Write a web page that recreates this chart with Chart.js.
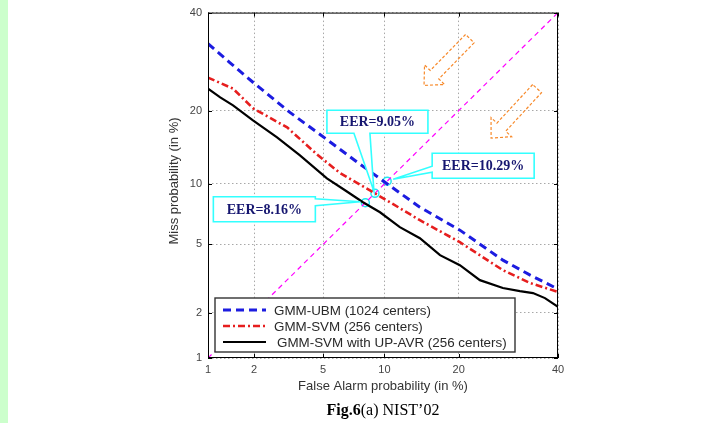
<!DOCTYPE html>
<html>
<head>
<meta charset="utf-8">
<script src="https://cdn.jsdelivr.net/npm/chart.js@4.4.0/dist/chart.umd.min.js"></script>
<style>
  html, body { margin: 0; padding: 0; background: #fff; }
  #wrap { position: relative; width: 715px; height: 423px; }
</style>
</head>
<body>
<div id="wrap"><canvas id="det" width="715" height="423"></canvas></div>
<script>
// ticks (in %)
const tickPct = [1, 2, 5, 10, 20, 40];
const tickLabels = ['1', '2', '5', '10', '20', '40'];

// GMM-UBM (1024 centers)
const ubmFA   = [1.0, 1.4, 1.97, 3.28, 5.12, 7.27, 10.06, 14.2, 20.2, 28.1, 33.8, 40];
const ubmMiss = [33.0, 29.0, 25.1, 19.7, 15.7, 12.7, 10.17, 7.76, 5.95, 4.10, 3.37, 2.79];

// GMM-SVM (256 centers)
const svmFA   = [1.0, 1.47, 1.97, 3.16, 4.7, 6.12, 8.87, 11.7, 14.2, 20.2, 28.1, 33.8, 40];
const svmMiss = [26.0, 23.9, 20.4, 17.3, 13.35, 11.2, 9.15, 7.68, 6.69, 5.14, 3.6, 3.03, 2.68];

// GMM-SVM with UP-AVR (256 centers)
const upFA   = [1.0, 1.21, 1.47, 1.97, 2.76, 3.74, 5.24, 6.49, 7.95, 9.55, 11.7, 14.2, 17.05, 20.2, 23.7, 28.1, 31.6, 34.4, 37.05, 40];
const upMiss = [23.9, 22.3, 20.9, 18.4, 15.8, 13.35, 10.6, 9.35, 8.2, 7.33, 6.17, 5.4, 4.37, 3.84, 3.15, 2.83, 2.71, 2.64, 2.46, 2.17];

// equal error rate points
const eerVals   = [10.29, 9.05, 8.16];
const eerLabels = ['EER=10.29%', 'EER=9.05%', 'EER=8.16%'];

// orange arrows (tail -> tip, in %)
const arrowTail = [[21.9, 34.1], [35.3, 23.9]];
const arrowTip  = [[14.76, 24.5], [25.8, 15.7]];

const legendLabels = ['GMM-UBM (1024 centers)', 'GMM-SVM (256 centers)', 'GMM-SVM with UP-AVR (256 centers)'];

// inverse normal cdf (DET axis)
function probit(p) {
    const a = [-3.969683028665376e+01, 2.209460984245205e+02, -2.759285104469687e+02, 1.383577518672690e+02, -3.066479806614716e+01, 2.506628277459239e+00];
    const b = [-5.447609879822406e+01, 1.615858368580409e+02, -1.556989798598866e+02, 6.680131188771972e+01, -1.328068155288572e+01];
    const c = [-7.784894002430293e-03, -3.223964580411365e-01, -2.400758277161838e+00, -2.549671010243128e+00, 4.374664141464968e+00, 2.938163982698783e+00];
    const d = [7.784695709041462e-03, 3.224671290700398e-01, 2.445134137142996e+00, 3.754408661907416e+00];
    let q, r;
    if (p < 0.02425) {
        q = Math.sqrt(-2 * Math.log(p));
        return (((((c[0]*q+c[1])*q+c[2])*q+c[3])*q+c[4])*q+c[5]) / ((((d[0]*q+d[1])*q+d[2])*q+d[3])*q+1);
    }
    if (p > 1 - 0.02425) {
        q = Math.sqrt(-2 * Math.log(1 - p));
        return -(((((c[0]*q+c[1])*q+c[2])*q+c[3])*q+c[4])*q+c[5]) / ((((d[0]*q+d[1])*q+d[2])*q+d[3])*q+1);
    }
    q = p - 0.5; r = q * q;
    return (((((a[0]*r+a[1])*r+a[2])*r+a[3])*r+a[4])*r+a[5])*q / (((((b[0]*r+b[1])*r+b[2])*r+b[3])*r+b[4])*r+1);
}

function toPoints(fa, miss) {
    return fa.map((v, i) => ({ x: probit(v / 100), y: probit(miss[i] / 100) }));
}

// callout layout relative to each EER point (px)
const callouts = [
    { left: 45, top: -28, w: 102, h: 25, side: 'left', a: 13, b: 19, tip: [6, -2] },
    { left: -48, top: -83, w: 101, h: 23, side: 'bottom', a: 27, b: 43, tip: [-1, -2] },
    { left: -152, top: -6, w: 102, h: 25, side: 'right', a: 2, b: 9, tip: [-5, -1] }
];

function calloutPath(ctx, P, c) {
    const x0 = P.x + c.left, y0 = P.y + c.top, x1 = x0 + c.w, y1 = y0 + c.h;
    const tx = P.x + c.tip[0], ty = P.y + c.tip[1];
    ctx.beginPath();
    ctx.moveTo(x0, y0);
    ctx.lineTo(x1, y0);
    if (c.side === 'right') {
        ctx.lineTo(x1, y0 + c.a); ctx.lineTo(tx, ty); ctx.lineTo(x1, y0 + c.b);
    }
    ctx.lineTo(x1, y1);
    if (c.side === 'bottom') {
        ctx.lineTo(x0 + c.b, y1); ctx.lineTo(tx, ty); ctx.lineTo(x0 + c.a, y1);
    }
    ctx.lineTo(x0, y1);
    if (c.side === 'left') {
        ctx.lineTo(x0, y0 + c.b); ctx.lineTo(tx, ty); ctx.lineTo(x0, y0 + c.a);
    }
    ctx.closePath();
}

const detPlugin = {
    id: 'detPlugin',
    beforeDraw(chart) {
        const ctx = chart.ctx;
        ctx.save();
        ctx.fillStyle = '#ccffcc';
        ctx.fillRect(0, 0, 8, chart.height);
        ctx.restore();
    },
    afterDraw(chart) {
        const ctx = chart.ctx;
        const xs = chart.scales.x, ys = chart.scales.y;
        const area = chart.chartArea;
        const px = v => xs.getPixelForValue(probit(v / 100));
        const py = v => ys.getPixelForValue(probit(v / 100));

        // orange arrows
        ctx.save();
        ctx.strokeStyle = '#f7892a';
        ctx.lineWidth = 1.2;
        ctx.setLineDash([3, 2]);
        arrowTail.forEach((t, i) => {
            const T = { x: px(t[0]), y: py(t[1]) };
            const H = { x: px(arrowTip[i][0]), y: py(arrowTip[i][1]) };
            const len = Math.hypot(H.x - T.x, H.y - T.y);
            const ux = (H.x - T.x) / len, uy = (H.y - T.y) / len;
            const nx = -uy, ny = ux;
            const s = 6, w = 14, hl = 15;
            const bx = H.x - ux * hl, by = H.y - uy * hl;
            ctx.beginPath();
            ctx.moveTo(T.x + nx * s, T.y + ny * s);
            ctx.lineTo(bx + nx * s, by + ny * s);
            ctx.lineTo(bx + nx * w, by + ny * w);
            ctx.lineTo(H.x, H.y);
            ctx.lineTo(bx - nx * w, by - ny * w);
            ctx.lineTo(bx - nx * s, by - ny * s);
            ctx.lineTo(T.x - nx * s, T.y - ny * s);
            ctx.closePath();
            ctx.stroke();
        });
        ctx.restore();

        // EER callouts
        ctx.save();
        eerVals.forEach((v, i) => {
            const P = { x: px(v), y: py(v) };
            const c = callouts[i];
            calloutPath(ctx, P, c);
            ctx.fillStyle = '#ffffff';
            ctx.fill();
            ctx.strokeStyle = '#33ffff';
            ctx.lineWidth = 1.6;
            ctx.stroke();
            ctx.fillStyle = '#161670';
            ctx.font = 'bold 14px "Liberation Serif", "Times New Roman", serif';
            ctx.textAlign = 'center';
            ctx.textBaseline = 'middle';
            ctx.fillText(eerLabels[i], P.x + c.left + c.w / 2, P.y + c.top + c.h / 2 + 1);
        });
        ctx.restore();

        // legend
        ctx.save();
        const lx = 215, ly = 298, lw = 300, lh = 54;
        ctx.fillStyle = '#ffffff';
        ctx.fillRect(lx, ly, lw, lh);
        ctx.strokeStyle = '#333';
        ctx.lineWidth = 1.4;
        ctx.strokeRect(lx, ly, lw, lh);
        const rows = [310, 326, 342];
        const textX = [274, 274, 277];
        chart.data.datasets.slice(0, 3).forEach((ds, i) => {
            ctx.strokeStyle = ds.borderColor;
            ctx.lineWidth = ds.borderWidth;
            ctx.setLineDash(ds.borderDash || []);
            ctx.beginPath();
            ctx.moveTo(223, rows[i]);
            ctx.lineTo(266, rows[i]);
            ctx.stroke();
            ctx.setLineDash([]);
            ctx.fillStyle = '#2a2a2a';
            ctx.font = '13.4px "Liberation Sans", Arial, sans-serif';
            ctx.textAlign = 'left';
            ctx.textBaseline = 'middle';
            ctx.fillText(legendLabels[i], textX[i], rows[i] + 1);
        });
        ctx.restore();

        // axes box and inward ticks
        ctx.save();
        ctx.strokeStyle = '#000';
        ctx.lineWidth = 1;
        ctx.setLineDash([]);
        ctx.strokeRect(area.left + 0.5, area.top + 0.5, area.right - area.left - 1, area.bottom - area.top - 1);
        ctx.beginPath();
        tickPct.forEach(p => {
            const x = Math.round(px(p)) + 0.5, y = Math.round(py(p)) + 0.5;
            ctx.moveTo(x, area.bottom); ctx.lineTo(x, area.bottom - 4);
            ctx.moveTo(x, area.top); ctx.lineTo(x, area.top + 4);
            ctx.moveTo(area.left, y); ctx.lineTo(area.left + 4, y);
            ctx.moveTo(area.right, y); ctx.lineTo(area.right - 4, y);
        });
        ctx.stroke();
        ctx.restore();

        // axis titles and caption
        ctx.save();
        ctx.fillStyle = '#333';
        ctx.font = '13px "Liberation Sans", Arial, sans-serif';
        ctx.textAlign = 'center';
        ctx.textBaseline = 'middle';
        ctx.fillText('False Alarm probability (in %)', 383, 386);
        ctx.translate(174, 181);
        ctx.rotate(-Math.PI / 2);
        ctx.fillText('Miss probability (in %)', 0, 0);
        ctx.restore();

        ctx.save();
        ctx.fillStyle = '#000';
        ctx.textBaseline = 'middle';
        ctx.textAlign = 'left';
        const boldPart = 'Fig.6', restPart = '(a) NIST\u201902';
        ctx.font = 'bold 16px "Liberation Serif", "Times New Roman", serif';
        const w1 = ctx.measureText(boldPart).width;
        ctx.font = '16px "Liberation Serif", "Times New Roman", serif';
        const w2 = ctx.measureText(restPart).width;
        const sx = 383 - (w1 + w2) / 2;
        ctx.font = 'bold 16px "Liberation Serif", "Times New Roman", serif';
        ctx.fillText(boldPart, sx, 411);
        ctx.font = '16px "Liberation Serif", "Times New Roman", serif';
        ctx.fillText(restPart, sx + w1, 411);
        ctx.restore();
    }
};

const tickFont = { family: '"Liberation Sans", Arial, sans-serif', size: 11 };
const lo = probit(0.01), hi = probit(0.40);

new Chart(document.getElementById('det'), {
    type: 'line',
    data: {
        datasets: [
            {
                label: legendLabels[0],
                data: toPoints(ubmFA, ubmMiss),
                borderColor: '#1c1ce0',
                borderWidth: 3,
                borderDash: [8, 5],
                pointRadius: 0,
                fill: false,
                tension: 0
            },
            {
                label: legendLabels[1],
                data: toPoints(svmFA, svmMiss),
                borderColor: '#e61e1e',
                borderWidth: 2.6,
                borderDash: [7, 3, 2, 3],
                pointRadius: 0,
                fill: false,
                tension: 0
            },
            {
                label: legendLabels[2],
                data: toPoints(upFA, upMiss),
                borderColor: '#000000',
                borderWidth: 2.2,
                pointRadius: 0,
                fill: false,
                tension: 0
            },
            {
                label: 'diagonal',
                data: toPoints([1, 40], [1, 40]),
                borderColor: '#ff00ff',
                borderWidth: 1.2,
                borderDash: [5, 4],
                pointRadius: 0,
                fill: false
            },
            {
                label: 'EER',
                data: toPoints(eerVals, eerVals),
                showLine: false,
                pointRadius: 4,
                pointBorderWidth: 1.5,
                pointBorderColor: '#22e6f0',
                pointBackgroundColor: 'rgba(0,0,0,0)'
            }
        ]
    },
    options: {
        responsive: false,
        animation: false,
        devicePixelRatio: 1,
        layout: { padding: { left: 0, top: 12, right: 157, bottom: 0 } },
        plugins: {
            legend: { display: false },
            tooltip: { enabled: false }
        },
        scales: {
            x: {
                type: 'linear',
                min: lo,
                max: hi,
                afterBuildTicks: s => { s.ticks = tickPct.map(p => ({ value: probit(p / 100) })); },
                afterFit: s => { s.height = 65; },
                ticks: {
                    callback: (v, i) => tickLabels[i],
                    font: tickFont,
                    color: '#444',
                    padding: 5,
                    maxRotation: 0,
                    autoSkip: false
                },
                grid: { color: '#a8a8a8', lineWidth: 1, drawTicks: false },
                border: { display: false, dash: [1.5, 2.5] }
            },
            y: {
                type: 'linear',
                min: lo,
                max: hi,
                afterBuildTicks: s => { s.ticks = tickPct.map(p => ({ value: probit(p / 100) })); },
                afterFit: s => { s.width = 208; },
                ticks: {
                    callback: (v, i) => tickLabels[i],
                    font: tickFont,
                    color: '#444',
                    padding: 6,
                    autoSkip: false
                },
                grid: { color: '#a8a8a8', lineWidth: 1, drawTicks: false },
                border: { display: false, dash: [1.5, 2.5] }
            }
        }
    },
    plugins: [detPlugin]
});
</script>
</body>
</html>
